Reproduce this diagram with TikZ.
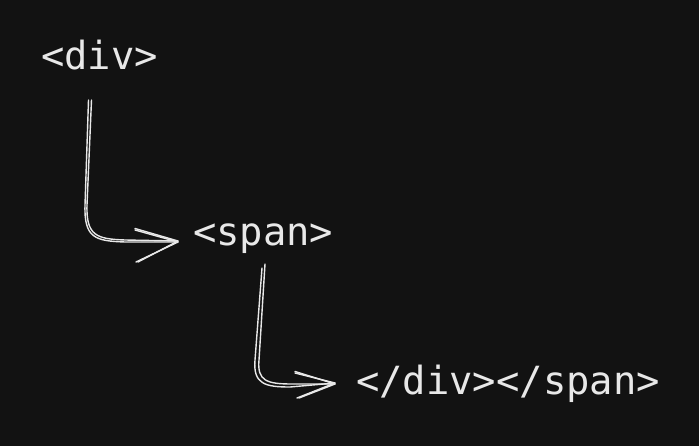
\documentclass[tikz,border=0pt]{standalone}
\usepackage{fontspec}
\setmonofont{DejaVu Sans Mono}
\definecolor{bg}{HTML}{121212}
\definecolor{ink}{HTML}{E8E8E8}
\tikzset{
  tag/.style={anchor=base west, inner sep=0pt, text=ink, font=\ttfamily\fontsize{38.8}{42}\selectfont},
  sketch/.style={draw=ink, line width=1.4pt, line cap=round, line join=round}
}
\begin{document}
\begin{tikzpicture}[x=1pt,y=-1pt]
\fill[bg] (0,0) rectangle (699,446);
\useasboundingbox (0,0) rectangle (699,446);
\node[tag] (div) at (41,70) {<div>};
\node[tag] (span) at (193,246) {<span>};
\node[tag] (close) at (356,395) {</div></span>};
% arrow 1
\coordinate (a1s) at (90,100);
\coordinate (a1e) at (178,242);
\coordinate (a1u) at (135,230);
\coordinate (a1d) at (136,262);
\draw[sketch] ([xshift=-1.5pt]a1s) -- (85,205) .. controls (84,238) and (95,241) .. (125,242) -- (a1e);
\draw[sketch] ([xshift=1.5pt]a1s) -- (87,205) .. controls (86,236) and (97,239) .. (125,240) -- ([yshift=1pt]a1e);
\draw[sketch] (a1u) -- (a1e) -- (a1d);
\draw[sketch] ([yshift=1.5pt]a1u) -- ([yshift=1pt]a1e) -- ([xshift=2pt]a1d);
% arrow 2
\coordinate (a2s) at (262,268);
\coordinate (a2e) at (335,383);
\coordinate (a2u) at (295,373);
\coordinate (a2d) at (297,398);
\draw[sketch] (a2s) -- (255,360) .. controls (253,384) and (265,387) .. (290,387) -- (a2e);
\draw[sketch] ([xshift=3pt,yshift=4pt]a2s) -- (259,360) .. controls (257,381) and (267,384) .. (292,384) -- ([yshift=-1pt]a2e);
\draw[sketch] (a2u) -- (a2e) -- (a2d);
\draw[sketch] ([yshift=1.5pt]a2u) -- ([yshift=-1pt]a2e) -- ([xshift=2pt]a2d);
\end{tikzpicture}
\end{document}
